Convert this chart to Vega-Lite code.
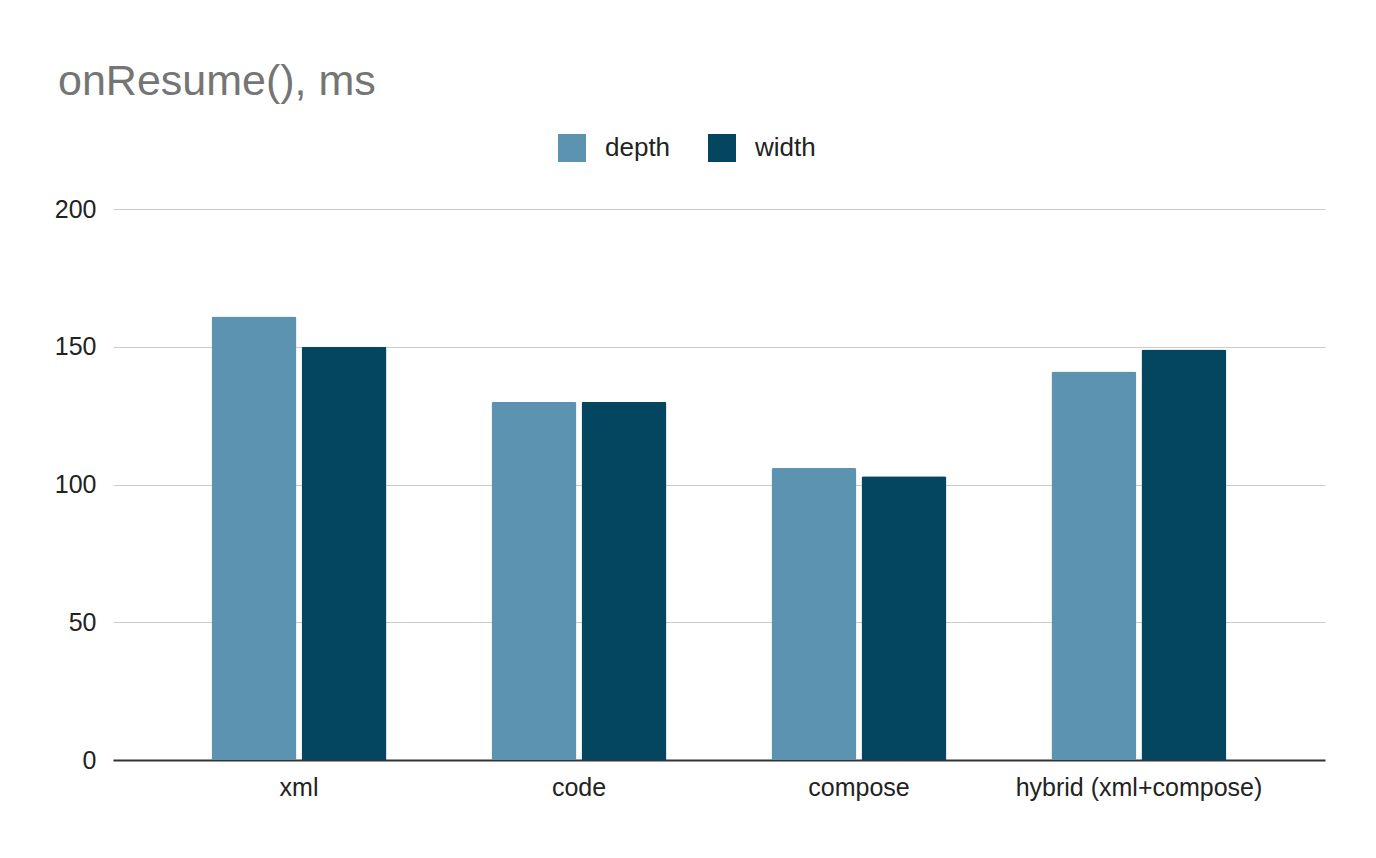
{
  "$schema": "https://vega.github.io/schema/vega-lite/v6.json",
  "description": "onResume(), ms - depth vs width",
  "autosize": {"type": "none"},
  "width": 1212,
  "height": 551,
  "padding": {"left": 113, "top": 209, "right": 51, "bottom": 98},
  "background": "white",
  "title": {
    "text": "onResume(), ms",
    "anchor": "start",
    "frame": "group",
    "dx": -55,
    "offset": -4,
    "baseline": "alphabetic",
    "font": "Liberation Sans",
    "fontSize": 43,
    "fontWeight": "normal",
    "color": "#757575"
  },
  "data": {
    "values": [
      {"variant": "xml", "series": "depth", "ms": 161},
      {"variant": "xml", "series": "width", "ms": 150},
      {"variant": "code", "series": "depth", "ms": 130},
      {"variant": "code", "series": "width", "ms": 130},
      {"variant": "compose", "series": "depth", "ms": 106},
      {"variant": "compose", "series": "width", "ms": 103},
      {"variant": "hybrid (xml+compose)", "series": "depth", "ms": 141},
      {"variant": "hybrid (xml+compose)", "series": "width", "ms": 149}
    ]
  },
  "mark": {"type": "bar", "cornerRadiusTopLeft": 2, "cornerRadiusTopRight": 2},
  "encoding": {
    "x": {
      "field": "variant",
      "type": "nominal",
      "sort": null,
      "title": null,
      "scale": {"paddingInner": 0.375, "paddingOuter": 0.352},
      "axis": {
        "labelAngle": 0,
        "labelFont": "Liberation Sans",
        "labelFontSize": 25,
        "labelColor": "#222222",
        "labelPadding": 15,
        "labelLimit": 0,
        "labelOverlap": false,
        "ticks": false,
        "domainColor": "#333333",
        "domainWidth": 2,
        "grid": false
      }
    },
    "xOffset": {
      "field": "series",
      "type": "nominal",
      "scale": {"paddingInner": 0.056}
    },
    "y": {
      "field": "ms",
      "type": "quantitative",
      "title": null,
      "scale": {"domain": [0, 200]},
      "axis": {
        "values": [0, 50, 100, 150, 200],
        "labelFont": "Liberation Sans",
        "labelFontSize": 25,
        "labelColor": "#222222",
        "labelPadding": 17,
        "ticks": false,
        "domain": false,
        "gridColor": "#cccccc",
        "gridWidth": 1
      }
    },
    "color": {
      "field": "series",
      "type": "nominal",
      "title": null,
      "scale": {"domain": ["depth", "width"], "range": ["#5b93b0", "#04465f"]},
      "legend": {
        "orient": "none",
        "direction": "horizontal",
        "legendX": 445,
        "legendY": -75,
        "symbolType": "square",
        "symbolSize": 784,
        "symbolStrokeWidth": 0,
        "labelFont": "Liberation Sans",
        "labelFontSize": 26,
        "labelColor": "#222222",
        "labelOffset": 19,
        "columnPadding": 37
      }
    }
  },
  "config": {
    "view": {"stroke": null}
  }
}
